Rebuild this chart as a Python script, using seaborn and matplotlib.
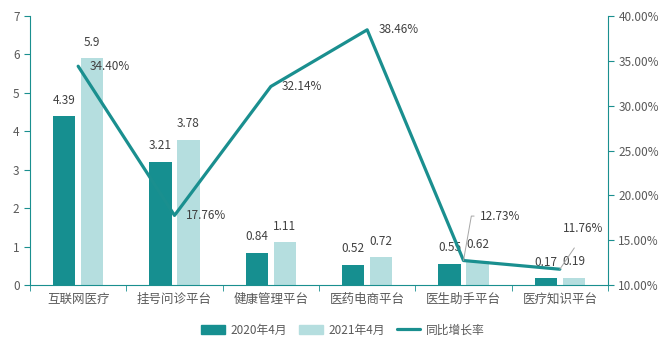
import matplotlib
matplotlib.use("Agg")
import matplotlib.pyplot as plt
import seaborn as sns
import pandas as pd
import numpy as np

categories = ["互联网医疗", "挂号问诊平台", "健康管理平台", "医药电商平台", "医生助手平台", "医疗知识平台"]
apr_2020 = [4.39, 3.21, 0.84, 0.52, 0.55, 0.17]
apr_2021 = [5.9, 3.78, 1.11, 0.72, 0.62, 0.19]
growth = [34.40, 17.76, 32.14, 38.46, 12.73, 11.76]
series_names = ["2020年4月", "2021年4月", "同比增长率"]

sns.set_style("white")
plt.rcParams['font.family'] = ['Noto Sans CJK SC', 'DejaVu Sans']

dark = "#168f90"
light = "#b5dedf"
teal = "#1a8f8f"
grey = "#595959"

df = pd.DataFrame({
    "cat": categories * 2,
    "val": apr_2020 + apr_2021,
    "series": [series_names[0]] * 6 + [series_names[1]] * 6,
})

fig = plt.figure(figsize=(6.7, 3.55), dpi=100)
ax = fig.add_axes([30/670, 1-285/355, 578/670, 269/355])
sns.barplot(data=df, x="cat", y="val", hue="series", order=categories,
            hue_order=series_names[:2], palette=[dark, light], width=0.58, gap=0.2,
            ax=ax, legend=False, saturation=1, linewidth=0)
ax.set_ylim(0, 7)
ax.set_xlim(-0.5, 5.5)
ax.set_yticks(range(0, 8))
ax.set_xlabel("")
ax.set_ylabel("")

for cont in ax.containers:
    ax.bar_label(cont, labels=[f"{v:g}" for v in cont.datavalues], padding=7,
                 fontsize=8.5, color="#404040")

ax2 = ax.twinx()
gdf = pd.DataFrame({"x": np.arange(len(categories)), "g": growth})
sns.lineplot(data=gdf, x="x", y="g", ax=ax2, color=teal, linewidth=2.3, legend=False)
ax2.set_ylim(10, 40)
ax2.set_yticks(range(10, 41, 5))
ax2.set_yticklabels([f"{v:.2f}%" for v in range(10, 41, 5)])
ax2.set_ylabel("")
ax2.set_xlim(-0.5, 5.5)

# line labels
for i, g in enumerate(growth):
    if i == 4:
        ax2.annotate(f"{g:.2f}%", xy=(i, g), xytext=(12, 32), textcoords="offset points",
                     fontsize=8.5, color="#404040", va="center", ha="left",
                     arrowprops=dict(arrowstyle="-", color="#a6a6a6", lw=0.7,
                                     connectionstyle="angle,angleA=0,angleB=80,rad=0",
                                     shrinkA=2, shrinkB=0))
    elif i == 5:
        ax2.annotate(f"{g:.2f}%", xy=(i, g), xytext=(2, 29), textcoords="offset points",
                     fontsize=8.5, color="#404040", va="center", ha="left",
                     arrowprops=dict(arrowstyle="-", color="#a6a6a6", lw=0.7,
                                     shrinkA=8, shrinkB=0, relpos=(0.5, 0)))
    else:
        ax2.annotate(f"{g:.2f}%", xy=(i, g), xytext=(8, 0), textcoords="offset points",
                     fontsize=8.5, color="#404040", va="center", ha="left")

for a in (ax, ax2):
    for s in a.spines.values():
        s.set_visible(False)
    a.tick_params(colors=grey, labelsize=8.5)
ax.spines["left"].set_visible(True)
ax.spines["left"].set_color(teal)
ax.spines["bottom"].set_visible(True)
ax.spines["bottom"].set_color(teal)
ax2.spines["right"].set_visible(True)
ax2.spines["right"].set_color(teal)
ax.tick_params(axis="y", length=4, color=teal, direction="out", left=True)
ax2.tick_params(axis="y", length=4, color=teal, direction="out", right=True)
ax.tick_params(axis="x", length=0, pad=6, labelsize=9)
ax.set_xticks(np.arange(-0.5, 6.0, 1.0), minor=True)
ax.tick_params(axis="x", which="minor", length=4, color=teal, direction="out", bottom=True)

from matplotlib.patches import Patch
from matplotlib.lines import Line2D
handles = [Patch(color=dark), Patch(color=light), Line2D([0], [0], color=teal, lw=2.3)]
fig.legend(handles, series_names, loc="center", bbox_to_anchor=(0.512, 0.07), ncol=3,
           frameon=False, fontsize=8.5, labelcolor=grey, handlelength=2.0, handleheight=0.8,
           handletextpad=0.5, columnspacing=1.0)

fig.savefig("out.png", dpi=100)
